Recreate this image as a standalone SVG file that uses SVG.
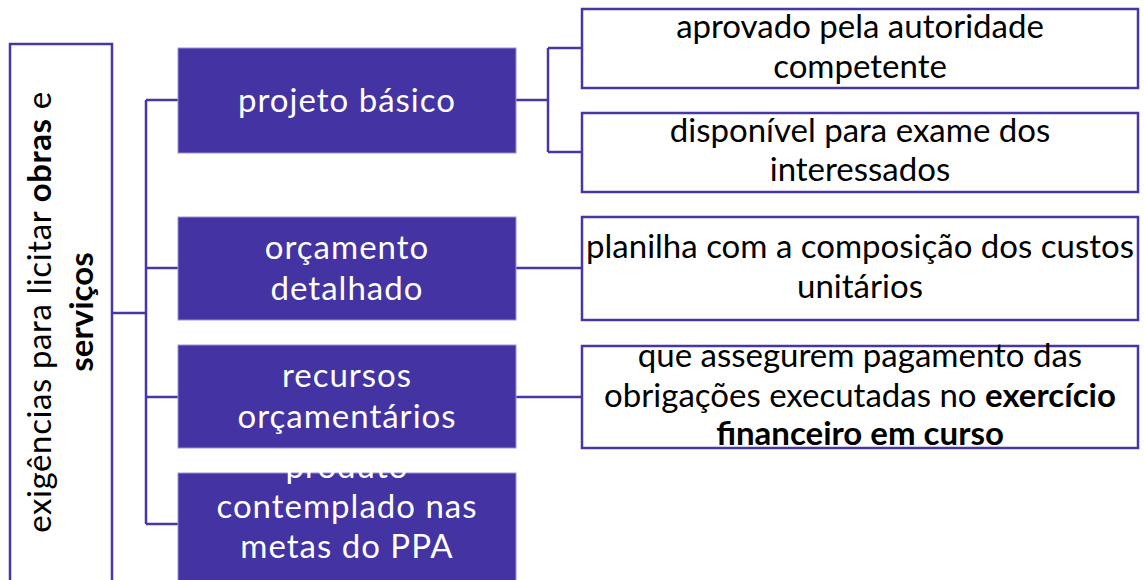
<svg xmlns="http://www.w3.org/2000/svg" width="1144" height="580" viewBox="0 0 1144 580">
<style>
.lk{fill:none;stroke:#4636a6;stroke-width:2.5}
.pb{fill:#4433a2;stroke:#9b92d6;stroke-width:1}
.wb{fill:#fff;stroke:#4636a6;stroke-width:2.5}
text{font-family:Lato,"Open Sans","Liberation Sans",sans-serif;font-size:33px;text-anchor:middle}
.w{fill:#fff;letter-spacing:1px}
.k{fill:#000}
.b{font-weight:700}
</style>
<rect width="1144" height="580" fill="#fff"/>
<g id="connectors">
<path class="lk" d="M112,313H146M146,100V524M146,100H178M146,268H178M146,397H178M146,524H178"/>
<path class="lk" d="M516,100H548M548,48V152M548,48H582M548,152H582"/>
<path class="lk" d="M516,268H582M516,397H582"/>
</g>
<g id="root">
<rect class="wb" x="10" y="44" width="102" height="560"/>
<text class="k" transform="translate(51,312) rotate(-90)" style="letter-spacing:0.6px">exigências para licitar <tspan class="b">obras</tspan> e</text>
<text class="k b" transform="translate(93,312) rotate(-90)">serviços</text>
</g>
<g id="projeto">
<rect class="pb" x="178" y="48" width="338" height="105"/>
<text class="w" x="347" y="112">projeto básico</text>
</g>
<g id="orcamento">
<rect class="pb" x="178" y="217" width="338" height="103"/>
<text class="w" x="347" y="259">orçamento</text>
<text class="w" x="347" y="300">detalhado</text>
</g>
<g id="recursos">
<rect class="pb" x="178" y="345" width="338" height="103"/>
<text class="w" x="347" y="387">recursos</text>
<text class="w" x="347" y="428">orçamentários</text>
</g>
<g id="produto">
<rect class="pb" x="178" y="473" width="338" height="130"/>
<text class="w" x="347" y="478">produto</text>
<text class="w" x="347" y="518">contemplado nas</text>
<text class="w" x="347" y="558">metas do PPA</text>
</g>
<g id="aprovado">
<rect class="wb" x="582" y="9" width="556" height="79"/>
<text class="k" x="860" y="38">aprovado pela autoridade</text>
<text class="k" x="860" y="78">competente</text>
</g>
<g id="disponivel">
<rect class="wb" x="582" y="113" width="556" height="79"/>
<text class="k" x="860" y="142">disponível para exame dos</text>
<text class="k" x="860" y="181">interessados</text>
</g>
<g id="planilha">
<rect class="wb" x="582" y="217" width="556" height="103"/>
<text class="k" x="860" y="258">planilha com a composição dos custos</text>
<text class="k" x="860" y="298">unitários</text>
</g>
<g id="pagamento">
<rect class="wb" x="582" y="346" width="556" height="102"/>
<text class="k" x="860" y="367">que assegurem pagamento das</text>
<text class="k" x="860" y="407">obrigações executadas no <tspan class="b">exercício</tspan></text>
<text class="k b" x="860" y="445">financeiro em curso</text>
</g>
</svg>
